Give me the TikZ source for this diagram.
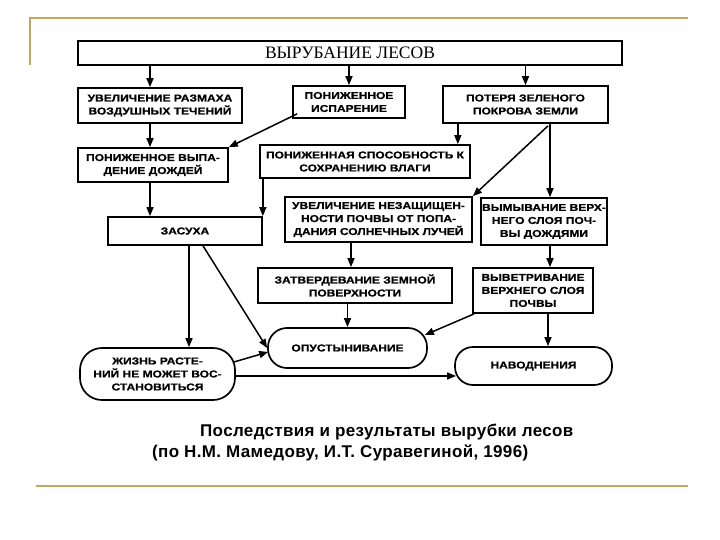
\documentclass[tikz,border=0pt]{standalone}
\usepackage{fontspec}
\setmainfont{Liberation Serif}
\newfontfamily\boxfont{Liberation Sans Bold}[FakeStretch=1.2,FakeBold=0.8]
\newfontfamily\capfont{Liberation Sans Bold}[LetterSpace=2]
\usetikzlibrary{calc,arrows.meta}
\definecolor{gold}{RGB}{190,170,95}
\begin{document}
\begin{tikzpicture}[x=1pt,y=-1pt,
  bx/.style={draw, line width=1.7pt, inner sep=1pt, align=center,
    font=\boxfont\fontsize{10}{13}\selectfont},
  rbx/.style={bx, rounded corners=#1},
  arr/.style={line width=1.5pt, -{Triangle[length=9pt,width=7pt]}},
  deco/.style={gold, line width=2.5pt}]
\fill[white] (0,0) rectangle (720,540);
\useasboundingbox (0,0) rectangle (720,540);
% slide decorations
\draw[deco] (30,65) -- (30,18) -- (688,18);
\draw[deco] (36,486) -- (688,486);
% boxes
\node[bx, minimum width=544pt, minimum height=24pt, font=\fontsize{17.5}{19}\selectfont] (title) at (350,53) {ВЫРУБАНИЕ ЛЕСОВ};
\node[bx, minimum width=164pt, minimum height=35pt] (A) at (160,105.5) {УВЕЛИЧЕНИЕ РАЗМАХА\\ВОЗДУШНЫХ ТЕЧЕНИЙ};
\node[bx, minimum width=112pt, minimum height=32pt] (B) at (349,102) {ПОНИЖЕННОЕ\\ИСПАРЕНИЕ};
\node[bx, minimum width=165pt, minimum height=37pt] (C) at (525.5,104.5) {ПОТЕРЯ ЗЕЛЕНОГО\\ПОКРОВА ЗЕМЛИ};
\node[bx, minimum width=150pt, minimum height=34pt] (D) at (153,165) {ПОНИЖЕННОЕ ВЫПА-\\ДЕНИЕ ДОЖДЕЙ};
\node[bx, minimum width=210pt, minimum height=33pt] (E) at (365,161.5) {ПОНИЖЕННАЯ СПОСОБНОСТЬ К\\СОХРАНЕНИЮ ВЛАГИ};
\node[bx, minimum width=154pt, minimum height=28pt] (Z) at (185,231) {ЗАСУХА};
\node[bx, minimum width=187pt, minimum height=45pt] (G) at (378.5,219.5) {УВЕЛИЧЕНИЕ НЕЗАЩИЩЕН-\\НОСТИ ПОЧВЫ ОТ ПОПА-\\ДАНИЯ СОЛНЕЧНЫХ ЛУЧЕЙ};
\node[bx, minimum width=122pt, minimum height=47pt] (F) at (544,221.5) {ВЫМЫВАНИЕ ВЕРХ-\\НЕГО СЛОЯ ПОЧ-\\ВЫ ДОЖДЯМИ};
\node[bx, minimum width=194pt, minimum height=35pt] (H) at (355,285.5) {ЗАТВЕРДЕВАНИЕ ЗЕМНОЙ\\ПОВЕРХНОСТИ};
\node[bx, minimum width=120pt, minimum height=45pt] (I) at (533,290.5) {ВЫВЕТРИВАНИЕ\\ВЕРХНЕГО СЛОЯ\\ПОЧВЫ};
\node[rbx=19pt, minimum width=159pt, minimum height=40pt] (J) at (347.5,348) {ОПУСТЫНИВАНИЕ};
\node[rbx=18pt, minimum width=157pt, minimum height=38pt] (K) at (533.5,366) {НАВОДНЕНИЯ};
\node[rbx=22pt, minimum width=155pt, minimum height=52pt] (L) at (157.5,374) {ЖИЗНЬ РАСТЕ-\\НИЙ НЕ МОЖЕТ ВОС-\\СТАНОВИТЬСЯ};
% caption
\node[anchor=base west, inner sep=0, font=\capfont\fontsize{17}{19}\selectfont] (cap1) at (200,436) {Последствия и результаты вырубки лесов};
\node[anchor=base west, inner sep=0, font=\capfont\fontsize{17}{19}\selectfont] (cap2) at (152,457) {(по Н.М. Мамедову, И.Т. Суравегиной, 1996)};
% helper coordinates
\coordinate (ta) at ([xshift=-10pt]A.north);
\coordinate (ad) at ([xshift=-3pt]D.north);
\coordinate (ce) at ($(E.north east)+(-13,0)$);
\coordinate (cf) at ([xshift=6pt]F.north);
\coordinate (gh) at ([xshift=-4pt]H.north);
\coordinate (ik) at ([xshift=15pt]I.south);
\coordinate (zl) at ([xshift=4pt]Z.south);
% connectors
\draw[arr] (ta |- title.south) -- (ta);
\draw[arr] (B.north |- title.south) -- (B.north);
\draw[arr] (C.north |- title.south) -- (C.north);
\draw[arr] (ad |- A.south) -- (ad);
\draw[arr] ($(B.south west)+(5,-5)$) -- (D.north east);
\draw[arr] (ce |- C.south) -- (ce);
\draw[arr] (Z.north east |- E.south) -- (Z.north east);
\draw[arr] (ad |- D.south) -- (ad |- Z.north);
\draw[arr] (cf |- C.south) -- (cf);
\draw[arr] ($(cf |- C.south)+(-2,2)$) -- (G.north east);
\draw[arr] (gh |- G.south) -- (gh);
\draw[arr] (cf |- F.south) -- (cf |- I.north);
\draw[arr] (J.north |- H.south) -- (J.north);
\draw[arr] ($(I.south west)+(2,0)$) -- ($(J.east)+(-3,-13)$);
\draw[arr] (ik) -- (ik |- K.north);
\draw[arr] (zl) -- (zl |- L.north);
\draw[arr] ($(Z.south)+(18,0)$) -- (J.west);
\draw[arr] ($(L.east)+(-2,-12)$) -- ($(J.west)+(1,4)$);
\draw[arr] ([yshift=-2pt]L.east) -- ($([yshift=-2pt]L.east -| K.west)+(2,0)$);
\end{tikzpicture}
\end{document}
